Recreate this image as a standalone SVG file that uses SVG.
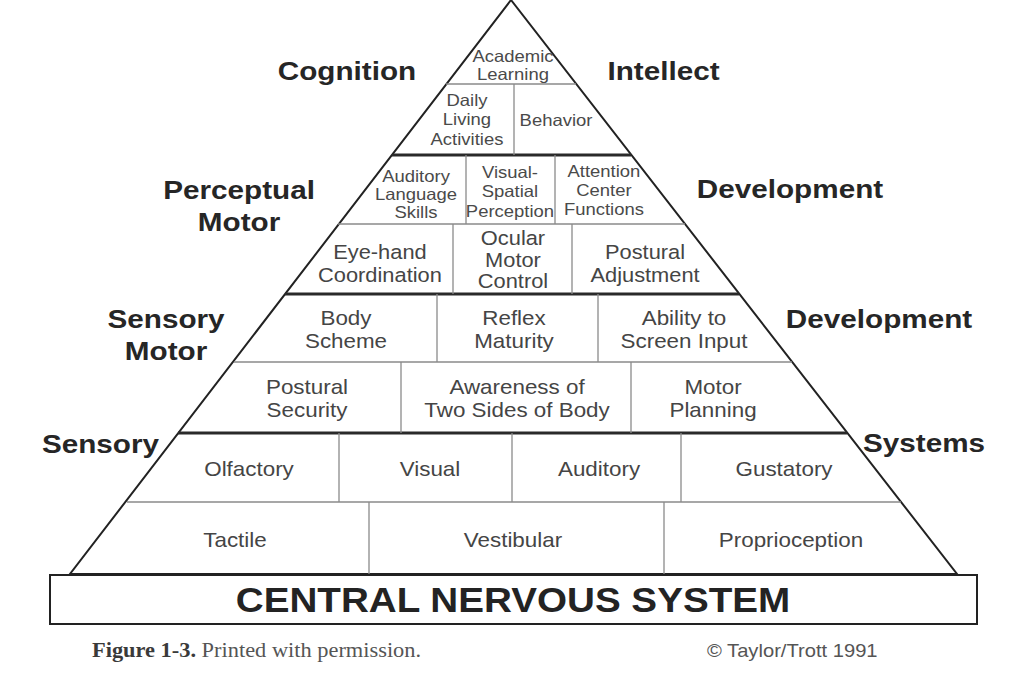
<svg xmlns="http://www.w3.org/2000/svg" width="1024" height="674" viewBox="0 0 1024 674">
<style>
.bg{fill:#fff}
.outline{fill:none;stroke:#222;stroke-width:2;stroke-linejoin:miter}
.thick{stroke:#2a2a2a;stroke-width:3}
.thin{stroke:#8a8a8a;stroke-width:1.3}
.side{font-family:"Liberation Sans",Arial,sans-serif;font-weight:bold;font-size:26.5px;fill:#262626;text-anchor:middle}
.sm{font-family:"Liberation Sans",Arial,sans-serif;font-size:16.5px;fill:#4a4a4a;text-anchor:middle}
.md{font-family:"Liberation Sans",Arial,sans-serif;font-size:19.5px;fill:#454545;text-anchor:middle}
.lg{font-family:"Liberation Sans",Arial,sans-serif;font-size:20px;fill:#454545;text-anchor:middle}
.cns{font-family:"Liberation Sans",Arial,sans-serif;font-weight:bold;font-size:34.5px;fill:#232323;text-anchor:middle}
.cap{font-family:"Liberation Serif","Times New Roman",serif;font-size:20px;fill:#555}
.copy{font-family:"Liberation Sans",Arial,sans-serif;font-size:18px;fill:#555}
</style>
<rect class="bg" x="0" y="0" width="1024" height="674"/>

<g id="pyramid">
  <polygon class="outline" points="511,0 70,574 957,574"/>
  <rect id="cns-box" x="50" y="575" width="927" height="49" fill="#fff" stroke="#222" stroke-width="2"/>
</g>

<g id="dividers">
  <line class="thin" x1="446" y1="84" x2="576" y2="84" stroke-width="2"/>
  <line class="thick" x1="392" y1="155" x2="631" y2="155"/>
  <line class="thin" x1="338" y1="224" x2="685" y2="224"/>
  <line class="thick" x1="285" y1="294" x2="739" y2="294"/>
  <line class="thin" x1="234" y1="362" x2="792" y2="362"/>
  <line class="thick" x1="178" y1="433" x2="847" y2="433"/>
  <line class="thin" x1="127" y1="502" x2="901" y2="502"/>
  <line class="thin" x1="514" y1="84" x2="514" y2="155"/>
  <line class="thin" x1="466" y1="155" x2="466" y2="224"/>
  <line class="thin" x1="555" y1="155" x2="555" y2="224"/>
  <line class="thin" x1="453" y1="224" x2="453" y2="294"/>
  <line class="thin" x1="572" y1="224" x2="572" y2="294"/>
  <line class="thin" x1="437" y1="294" x2="437" y2="362"/>
  <line class="thin" x1="598" y1="294" x2="598" y2="362"/>
  <line class="thin" x1="401" y1="362" x2="401" y2="433"/>
  <line class="thin" x1="631" y1="362" x2="631" y2="433"/>
  <line class="thin" x1="339" y1="433" x2="339" y2="502"/>
  <line class="thin" x1="512" y1="433" x2="512" y2="502"/>
  <line class="thin" x1="681" y1="433" x2="681" y2="502"/>
  <line class="thin" x1="369" y1="502" x2="369" y2="574"/>
  <line class="thin" x1="664" y1="502" x2="664" y2="574"/>
</g>

<g id="labels" transform="matrix(1.12 0 0 1 -61.44 0)">
  <g id="side-labels">
    <text class="side" x="364.7" y="80">Cognition</text>
    <text class="side" x="647.3" y="80">Intellect</text>
    <text class="side" x="268.3" y="199">Perceptual</text>
    <text class="side" x="268.3" y="231">Motor</text>
    <text class="side" x="760.2" y="198">Development</text>
    <text class="side" x="203.1" y="328">Sensory</text>
    <text class="side" x="203.1" y="360">Motor</text>
    <text class="side" x="839.7" y="328">Development</text>
    <text class="side" x="144.6" y="453">Sensory</text>
    <text class="side" x="879.9" y="452">Systems</text>
  </g>
  <g id="tier-cognition">
    <text class="sm" x="512.9" y="62">Academic</text>
    <text class="sm" x="512.9" y="80">Learning</text>
    <text class="sm" x="471.8" y="106">Daily</text>
    <text class="sm" x="471.8" y="125">Living</text>
    <text class="sm" x="471.8" y="145">Activities</text>
    <text class="sm" x="551.3" y="126">Behavior</text>
  </g>
  <g id="tier-perceptual">
    <text class="sm" x="426.3" y="182">Auditory</text>
    <text class="sm" x="426.3" y="200">Language</text>
    <text class="sm" x="426.3" y="218">Skills</text>
    <text class="sm" x="510.2" y="178">Visual-</text>
    <text class="sm" x="510.2" y="197">Spatial</text>
    <text class="sm" x="510.2" y="217">Perception</text>
    <text class="sm" x="594.1" y="177">Attention</text>
    <text class="sm" x="594.1" y="196">Center</text>
    <text class="sm" x="594.1" y="215">Functions</text>
    <text class="md" x="394.1" y="259">Eye-hand</text>
    <text class="md" x="394.1" y="282">Coordination</text>
    <text class="md" x="512.9" y="245">Ocular</text>
    <text class="md" x="512.9" y="267">Motor</text>
    <text class="md" x="512.9" y="288">Control</text>
    <text class="md" x="630.8" y="259">Postural</text>
    <text class="md" x="630.8" y="282">Adjustment</text>
  </g>
  <g id="tier-sensorymotor">
    <text class="lg" x="363.8" y="325">Body</text>
    <text class="lg" x="363.8" y="348">Scheme</text>
    <text class="lg" x="513.8" y="325">Reflex</text>
    <text class="lg" x="513.8" y="348">Maturity</text>
    <text class="lg" x="665.6" y="325">Ability to</text>
    <text class="lg" x="665.6" y="348">Screen Input</text>
    <text class="lg" x="329" y="394">Postural</text>
    <text class="lg" x="329" y="417">Security</text>
    <text class="lg" x="516.5" y="394">Awareness of</text>
    <text class="lg" x="516.5" y="417">Two Sides of Body</text>
    <text class="lg" x="691.5" y="394">Motor</text>
    <text class="lg" x="691.5" y="417">Planning</text>
  </g>
  <g id="tier-sensory">
    <text class="lg" x="277.2" y="476">Olfactory</text>
    <text class="lg" x="438.8" y="476">Visual</text>
    <text class="lg" x="589.7" y="476">Auditory</text>
    <text class="lg" x="754.9" y="476">Gustatory</text>
    <text class="lg" x="264.7" y="547">Tactile</text>
    <text class="lg" x="512.9" y="547">Vestibular</text>
    <text class="lg" x="761.1" y="547">Proprioception</text>
  </g>
  <g id="cns">
    <text class="cns" x="512.9" y="612">CENTRAL NERVOUS SYSTEM</text>
  </g>
  <g id="caption">
    <text class="cap" x="137" y="657"><tspan font-weight="bold" fill="#3a3a3a">Figure 1-3.</tspan> Printed with permission.</text>
    <text class="copy" x="686.1" y="657">© Taylor/Trott 1991</text>
  </g>
</g>
</svg>
